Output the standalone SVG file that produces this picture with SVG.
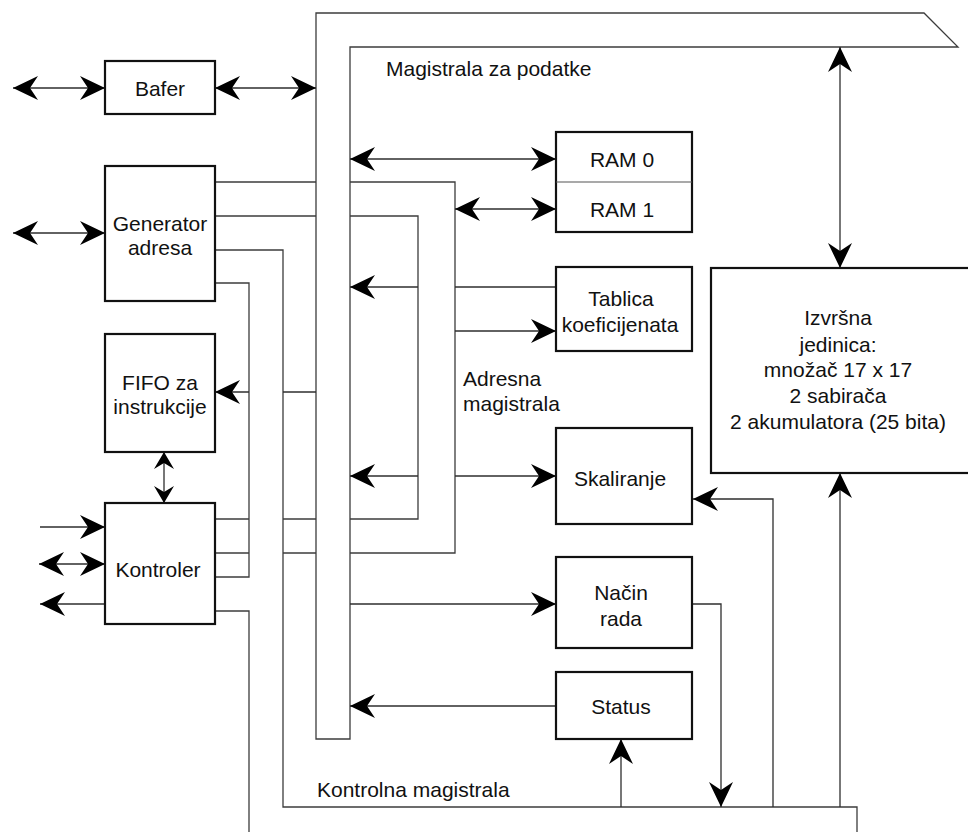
<svg xmlns="http://www.w3.org/2000/svg" width="968" height="832" viewBox="0 0 968 832">
  <defs>
    <style>
      .box { fill: #fff; stroke: #111; stroke-width: 2.2; }
      .bus { fill: none; stroke: #3c3c3c; stroke-width: 1.3; }
      .wire { fill: none; stroke: #2e2e2e; stroke-width: 1.3; }
      .lbl { font-family: "Liberation Sans", Arial, sans-serif; font-size: 21px; fill: #111; }
      .c { text-anchor: middle; }
    </style>
    <marker id="ah" markerUnits="userSpaceOnUse" viewBox="-26 -13 27 26" refX="0" refY="0" markerWidth="27" markerHeight="26" orient="auto-start-reverse">
      <path d="M0,0 L-25,-12 L-17,0 L-25,12 Z" fill="#000"/>
    </marker>
    <marker id="ahs" markerUnits="userSpaceOnUse" viewBox="-19 -11 20 22" refX="0" refY="0" markerWidth="20" markerHeight="22" orient="auto-start-reverse">
      <path d="M0,0 L-17,-10 L-11,0 L-17,10 Z" fill="#000"/>
    </marker>
  </defs>

  <!-- buses -->
  <g id="buses">
    <g id="data-bus">
      <path class="bus" d="M316,739 V13 H924 L958,47 H350 V739 Z"/>
      <text class="lbl" x="386" y="76">Magistrala za podatke</text>
    </g>
    <g id="address-bus">
      <path class="bus" d="M215,182 H316 M350,182 H455 V553 H350 M316,553 H283 M249,553 H215"/>
      <path class="bus" d="M215,216 H316 M350,216 H418 V519 H350 M316,519 H283 M249,519 H215"/>
      <text class="lbl" x="463" y="386">Adresna</text>
      <text class="lbl" x="463" y="411">magistrala</text>
    </g>
    <g id="control-bus">
      <path class="bus" d="M215,250 H283 V807 H857 V832"/>
      <path class="bus" d="M215,283 H249 V577 H215 M215,611 H249 V832"/>
      <text class="lbl" x="317" y="797">Kontrolna magistrala</text>
    </g>
  </g>

  <!-- connectors -->
  <g id="connectors">
    <path class="wire" d="M13,88 H105" marker-start="url(#ah)" marker-end="url(#ah)"/>
    <path class="wire" d="M215,88 H316" marker-start="url(#ah)" marker-end="url(#ah)"/>
    <path class="wire" d="M13,233 H105" marker-start="url(#ah)" marker-end="url(#ah)"/>
    <path class="wire" d="M249,392 H215" marker-end="url(#ah)"/>
    <path class="wire" d="M316,392 H283"/>
    <path class="wire" d="M164,452 V503" marker-start="url(#ahs)" marker-end="url(#ahs)"/>
    <path class="wire" d="M40,527 H105" marker-end="url(#ah)"/>
    <path class="wire" d="M39,564 H105" marker-start="url(#ah)" marker-end="url(#ah)"/>
    <path class="wire" d="M105,604 H40" marker-end="url(#ah)"/>
    <path class="wire" d="M350,159 H556" marker-start="url(#ah)" marker-end="url(#ah)"/>
    <path class="wire" d="M455,209 H556" marker-start="url(#ah)" marker-end="url(#ah)"/>
    <path class="wire" d="M556,287 H455"/>
    <path class="wire" d="M418,287 H350" marker-end="url(#ah)"/>
    <path class="wire" d="M455,331 H556" marker-end="url(#ah)"/>
    <path class="wire" d="M418,476 H350" marker-end="url(#ah)"/>
    <path class="wire" d="M455,476 H556" marker-end="url(#ah)"/>
    <path class="wire" d="M773,807 V499 H693" marker-end="url(#ah)"/>
    <path class="wire" d="M350,604 H556" marker-end="url(#ah)"/>
    <path class="wire" d="M693,604 H721 V807" marker-end="url(#ah)"/>
    <path class="wire" d="M556,706 H350" marker-end="url(#ah)"/>
    <path class="wire" d="M621,807 V739" marker-end="url(#ah)"/>
    <path class="wire" d="M840,807 V473" marker-end="url(#ah)"/>
    <path class="wire" d="M840,47 V268" marker-start="url(#ah)" marker-end="url(#ah)"/>
  </g>

  <!-- blocks -->
  <g id="bafer">
    <rect class="box" x="105" y="61" width="110" height="53"/>
    <text class="lbl c" x="160" y="96">Bafer</text>
  </g>
  <g id="generator-adresa">
    <rect class="box" x="105" y="166" width="110" height="135"/>
    <text class="lbl c" x="160" y="231">Generator</text>
    <text class="lbl c" x="160" y="255">adresa</text>
  </g>
  <g id="fifo">
    <rect class="box" x="105" y="334" width="110" height="118"/>
    <text class="lbl c" x="160" y="390">FIFO za</text>
    <text class="lbl c" x="160" y="414">instrukcije</text>
  </g>
  <g id="kontroler">
    <rect class="box" x="105" y="503" width="110" height="121"/>
    <text class="lbl c" x="158" y="577">Kontroler</text>
  </g>
  <g id="ram">
    <rect class="box" x="556" y="132" width="136" height="100"/>
    <line x1="556" y1="182" x2="692" y2="182" stroke="#555" stroke-width="1.2"/>
    <text class="lbl c" x="622" y="167">RAM 0</text>
    <text class="lbl c" x="622" y="217">RAM 1</text>
  </g>
  <g id="tablica">
    <rect class="box" x="556" y="267" width="136" height="84"/>
    <text class="lbl c" x="621" y="306">Tablica</text>
    <text class="lbl c" x="620" y="332">koeficijenata</text>
  </g>
  <g id="skaliranje">
    <rect class="box" x="556" y="428" width="136" height="96"/>
    <text class="lbl c" x="620" y="486">Skaliranje</text>
  </g>
  <g id="nacin-rada">
    <rect class="box" x="556" y="557" width="136" height="91"/>
    <text class="lbl c" x="621" y="600">Način</text>
    <text class="lbl c" x="621" y="626">rada</text>
  </g>
  <g id="status">
    <rect class="box" x="556" y="672" width="136" height="67"/>
    <text class="lbl c" x="621" y="714">Status</text>
  </g>
  <g id="izvrsna-jedinica">
    <rect class="box" x="711" y="268" width="270" height="205"/>
    <text class="lbl c" x="838" y="325">Izvršna</text>
    <text class="lbl c" x="838" y="352">jedinica:</text>
    <text class="lbl c" x="838" y="377">množač 17 x 17</text>
    <text class="lbl c" x="838" y="403">2 sabirača</text>
    <text class="lbl c" x="838" y="429">2 akumulatora (25 bita)</text>
  </g>
</svg>
